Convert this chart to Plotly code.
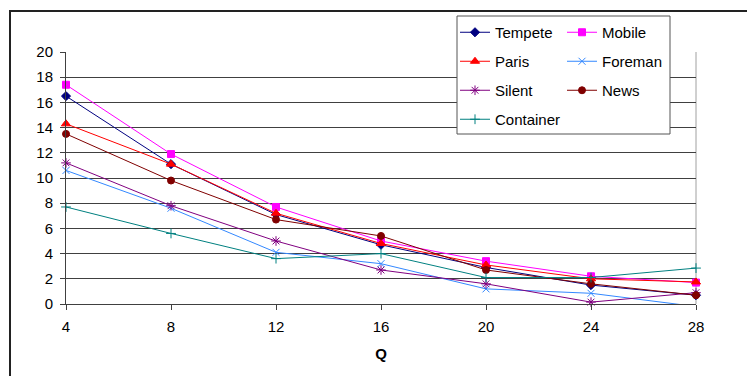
import plotly.graph_objects as go

q_values = [4, 8, 12, 16, 20, 24, 28]
tempete = [16.5, 11.1, 7.1, 4.7, 2.9, 1.5, 0.7]
mobile = [17.4, 11.9, 7.7, 5.0, 3.4, 2.2, 1.7]
paris = [14.3, 11.1, 7.2, 4.8, 3.1, 2.0, 1.75]
foreman = [10.6, 7.6, 4.1, 3.2, 1.2, 0.85, -0.2]
silent = [11.2, 7.8, 5.0, 2.7, 1.6, 0.15, 0.9]
news = [13.5, 9.8, 6.7, 5.4, 2.7, 1.6, 0.7]
container = [7.7, 5.6, 3.6, 4.0, 2.1, 2.1, 2.85]

y_ticks = list(range(0, 21, 2))

series = [
    ("Tempete", tempete, "#000080", "diamond", 7, "legend"),
    ("Mobile", mobile, "#FF00FF", "square", 7, "legend2"),
    ("Paris", paris, "#FF0000", "triangle-up", 8, "legend"),
    ("Foreman", foreman, "#3388FF", "x-thin-open", 7, "legend2"),
    ("Silent", silent, "#800080", "asterisk-open", 8, "legend"),
    ("News", news, "#800000", "circle", 7, "legend2"),
    ("Container", container, "#008080", "cross-thin-open", 7, "legend"),
]

FONT = "Liberation Sans, Arial, sans-serif"
fig = go.Figure()
for name, vals, color, sym, size, leg in series:
    fig.add_trace(go.Scatter(
        x=q_values, y=vals, name=name, mode="lines+markers",
        line=dict(color=color, width=1),
        marker=dict(symbol=sym, size=size, color=color,
                    line=dict(color=color, width=1)),
        cliponaxis=False,
        legend=leg, legendgroup=name,
    ))

W, H = 747, 376
L, R, T, B = 66, 51, 52, 72
pw, ph = W - L - R, H - T - B

def px(xp):
    return (xp - L) / pw

def py(yp):
    return (H - B - yp) / ph

legend_common = dict(
    bgcolor="rgba(0,0,0,0)", borderwidth=0, orientation="v",
    font=dict(family=FONT, size=15, color="black"),
    tracegroupgap=6.5, xanchor="left", yanchor="top",
)

fig.update_layout(
    width=W, height=H,
    margin=dict(l=L, r=R, t=T, b=B),
    paper_bgcolor="white", plot_bgcolor="white",
    font=dict(family=FONT, size=15, color="black"),
    showlegend=True,
    legend=dict(x=px(455), y=py(16), **legend_common),
    legend2=dict(x=px(562), y=py(16), **legend_common),
    xaxis=dict(
        range=[4, 28], tickmode="array", tickvals=q_values,
        ticktext=[str(v) for v in q_values],
        showgrid=False, zeroline=False,
        showline=True, linecolor="#404040", linewidth=1,
        ticks="outside", ticklen=5, tickcolor="#404040",
        ticklabelstandoff=4,
        title=dict(text="<b>Q</b>", font=dict(size=15), standoff=14),
    ),
    yaxis=dict(
        range=[0, 20], tickmode="array", tickvals=y_ticks,
        showgrid=True, gridcolor="#404040", gridwidth=1,
        zeroline=False,
        showline=True, linecolor="#404040", linewidth=1,
        ticks="outside", ticklen=5, tickcolor="#404040",
        ticklabelstandoff=4,
    ),
    shapes=[
        dict(type="rect", xref="paper", yref="paper",
             x0=px(10), x1=px(770), y0=py(400), y1=py(11),
             line=dict(color="#222222", width=2), layer="below"),
        dict(type="line", xref="paper", yref="paper",
             x0=1, x1=1, y0=0, y1=1,
             line=dict(color="#A0A0A0", width=1), layer="below"),
        dict(type="rect", xref="paper", yref="paper",
             x0=px(457), x1=px(670), y0=py(134), y1=py(16),
             line=dict(color="#555555", width=1), fillcolor="white",
             layer="above"),
    ],
)

fig.write_html("out.html", config={"displayModeBar": False},
               post_script="document.body.style.margin='0';")
